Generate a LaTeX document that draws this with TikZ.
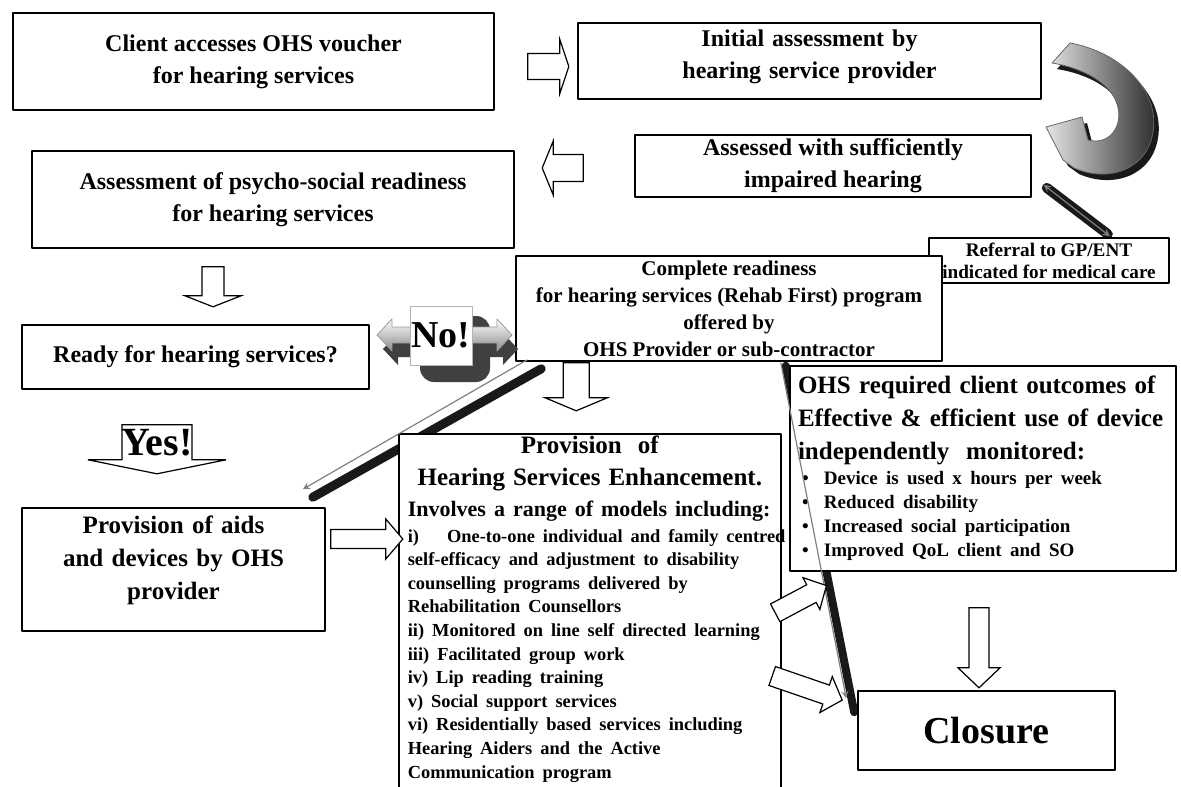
\documentclass[tikz,border=0pt]{standalone}
\usepackage{fontspec}
\setmainfont{Liberation Serif}
\usetikzlibrary{calc,backgrounds}
\tikzset{
  box/.style={draw,line width=0.8pt,fill=white,align=center,inner sep=2pt,
    font=\bfseries\fontsize{12}{16}\selectfont},
  blockarrow/.style={draw,fill=white,line width=0.6pt,line join=miter},
  thickline/.style={line width=4.5pt,black!90,line cap=round},
  thinarrow/.style={->,gray,line width=0.6pt},
}
% tail, angle, length, shaft half width, head half width, head length
\newcommand{\blockarrow}[6]{%
  \begin{scope}[shift={#1},rotate=#2]
    \draw[blockarrow] (0,-#4) -- ({#3-#6},-#4) -- ({#3-#6},-#5) -- (#3,0)
      -- ({#3-#6},#5) -- ({#3-#6},#4) -- (0,#4) -- cycle;
  \end{scope}}
\newcommand{\uturnpath}[1]{%
  \path[#1] (1052,63) -- (1070,43) .. controls (1120,52) and (1160,90) .. (1153,132)
    .. controls (1147,170) and (1108,183) .. (1074,168) -- (1063,160) -- (1046,127)
    -- (1082,117) -- (1088,140) .. controls (1110,146) and (1124,125) .. (1117,104)
    .. controls (1110,82) and (1082,68) .. (1052,63) -- cycle;}
\newcommand{\noarrowpath}[1]{%
  \path[#1] (377,335) -- (392,319) -- (392,327) -- (497,327) -- (497,319) -- (512,335)
    -- (497,351) -- (497,343) -- (392,343) -- (392,351) -- cycle;}
\newcommand{\liftup}[1]{\par\vspace{#1}\hrule height 0pt}
\begin{document}
\begin{tikzpicture}[x=0.5pt,y=-0.5pt,>=stealth,line join=round]
\useasboundingbox (0,0) rectangle (1181,786);
% boxes
\node[box,minimum width=240.5pt,minimum height=48.5pt] (voucher) at (253.5,61.5) {Client accesses OHS voucher\\for hearing services};
\node[box,minimum width=231.5pt,minimum height=38pt,text width=225pt,inner sep=0pt] (initial) at (809.5,61) {Initial assessment by\\hearing service provider\liftup{4pt}};
\node[box,minimum width=198pt,minimum height=30pt] (assessed) at (833,166) {Assessed with sufficiently\\impaired hearing};
\node[box,minimum width=241pt,minimum height=48.5pt] (psycho) at (273,199.5) {Assessment of psycho-social readiness\\for hearing services};
\node[box,minimum width=120pt,minimum height=22.5pt,inner sep=0pt,font=\bfseries\fontsize{9.6}{11}\selectfont] (referral) at (1049,260.5) {Referral to GP/ENT\\indicated for medical care};
\node[box,minimum width=213pt,minimum height=52.5pt,inner sep=0pt,font=\bfseries\fontsize{10.5}{13.5}\selectfont] (rehab) at (729,308.5) {Complete readiness\\for hearing services (Rehab First) program\\offered by\\OHS Provider or sub-contractor};
\node[box,minimum width=173.5pt,minimum height=32pt] (ready) at (195.5,357) {Ready for hearing services?};
\node[box,minimum width=151.5pt,minimum height=61.5pt,text width=145pt,inner sep=0pt,font=\bfseries\fontsize{12.5}{16.5}\selectfont] (aids) at (173.5,569.5) {Provision of aids\\and devices by OHS\\provider\liftup{9pt}};
\node[box,anchor=north west,align=left,text width=182pt,inner xsep=4.5pt,inner ysep=1pt] (hse) at (398,433) {%
  {\fontsize{12.5}{16}\selectfont\centering Provision\ \ of\par Hearing Services Enhancement.\par}
  {\fontsize{11}{15.5}\selectfont Involves a range of models including:\par}
  {\fontsize{9.2}{11.8}\selectfont\vspace{1pt}
  \mbox{i)\hspace{14pt}One-to-one individual and family centred}\\
  self-efficacy and adjustment to disability\\
  counselling programs delivered by\\
  Rehabilitation Counsellors\\
  ii) Monitored on line self directed learning\\
  iii) Facilitated group work\\
  iv) Lip reading training\\
  v) Social support services\\
  vi) Residentially based services including\\
  Hearing Aiders and the Active\\
  Communication program\par}\liftup{20pt}};
\node[box,align=left,text width=185pt,inner xsep=4pt,minimum height=102.5pt,font=\bfseries\fontsize{12.5}{16.5}\selectfont] (outcomes) at (983,468.5) {%
  {\makebox[\linewidth][s]{OHS required client outcomes of}\\
  \makebox[\linewidth][s]{Effective \& efficient use of device}\\
  independently\ \ monitored:\par}
  {\fontsize{9.5}{12}\selectfont\vspace{0.5pt}
  \hspace*{2pt}\makebox[11pt][l]{\textbullet}Device is used x hours per week\\
  \hspace*{2pt}\makebox[11pt][l]{\textbullet}Reduced disability\\
  \hspace*{2pt}\makebox[11pt][l]{\textbullet}Increased social participation\\
  \hspace*{2pt}\makebox[11pt][l]{\textbullet}Improved QoL client and SO\par}};
\node[box,minimum width=128.5pt,minimum height=39.5pt,font=\bfseries\fontsize{19}{22}\selectfont] (closure) at (986.5,730.5) {Closure};
% shadow lines behind the boxes
\begin{pgfonlayer}{background}
  \draw[thickline] ([shift={(26,7)}]rehab.south west) -- ([shift={(-13,-10)}]aids.north east);
  \draw[thickline,line width=4pt] ([shift={(-157,4)}]rehab.south east) -- ([shift={(-3,22)}]closure.north west);
  \draw[thickline,line width=5pt] ([shift={(15,-10)}]assessed.south east) -- ([shift={(-62,-3)}]referral.north east);
\end{pgfonlayer}
\draw[thinarrow] ([shift={(12,-2)}]rehab.south west) -- ([shift={(-23,-18)}]aids.north east);
\draw[thinarrow] ([shift={(-162,1)}]rehab.south east) -- ([shift={(-11,8)}]closure.north west);
\draw[thinarrow,<->] ([shift={(12,-13)}]assessed.south east) -- ([shift={(-60,-1)}]referral.north east);
% block arrows
\blockarrow{($(voucher.east)+(33,5)$)}{0}{41}{13}{27}{9}
\blockarrow{($(assessed.west)+(-51,2)$)}{180}{41}{13.5}{27}{11}
\blockarrow{($(psycho.south)+(-60,18)$)}{-90}{40}{11}{28}{11}
\blockarrow{($(rehab.south west)+(61,1)$)}{-90}{48}{13}{31}{13}
\blockarrow{($(aids.east)+(5,-30.5)$)}{0}{72}{9.5}{20}{17}
\blockarrow{($(outcomes.south west)+(-14,41)$)}{28}{58}{10}{18}{17}
\blockarrow{($(closure.west)+(-85,-54.5)$)}{-19}{74}{10}{19}{17}
\blockarrow{($(outcomes.south)+(-4,36)$)}{-90}{80}{10}{21}{20}
\blockarrow{($(ready.south)+(-38.5,35)$)}{-90}{49}{35}{69}{14}
\node[font=\bfseries\fontsize{20}{22}\selectfont,inner sep=0pt] (yes) at ($(ready.south)+(-38.5,52.5)$) {Yes!};
% 3D no arrow
\noarrowpath{fill=black!75,shift={(6,14)}}
\fill[black!75,rounded corners=7pt] (420,316) rectangle (490,382);
\noarrowpath{draw=black!40,top color=white,bottom color=black!45}
\node[draw=black!30,fill=white,minimum width=31pt,minimum height=29.5pt,inner sep=0pt,font=\bfseries\fontsize{19}{22}\selectfont] (no) at (441,335.5) {No!};
% 3D u-turn arrow
\uturnpath{fill=black!90,shift={(5,6)}}
\uturnpath{draw=black!60,left color=black!10,right color=black!85}
\end{tikzpicture}
\end{document}
